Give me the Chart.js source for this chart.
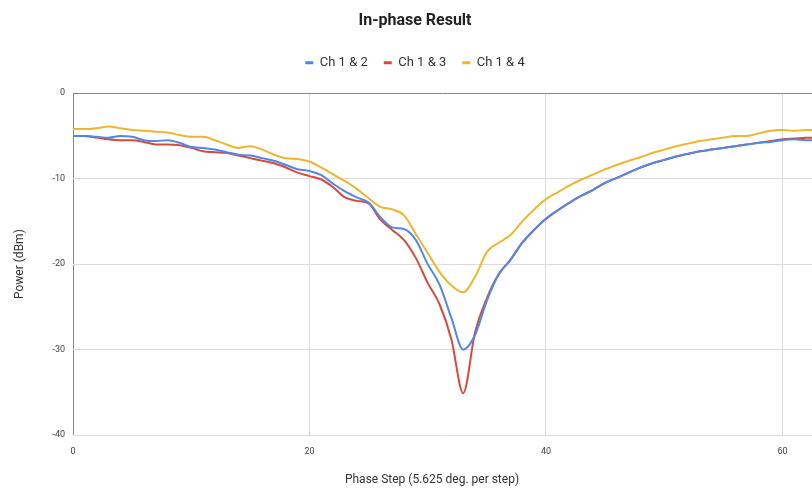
<!DOCTYPE html>
<html>
<head>
<meta charset="utf-8">
<script src="https://cdn.jsdelivr.net/npm/chart.js@4"></script>
<style>
  html, body { margin: 0; padding: 0; background: #fff; overflow: hidden; }
  #wrap { width: 812px; height: 491px; }
</style>
</head>
<body>
<div id="wrap"><canvas id="c" width="812" height="491"></canvas></div>
<script>
const steps = Array.from({length: 64}, (_, i) => i);
const ch12 = [-5.0,-5.0,-5.1,-5.2,-5.0,-5.1,-5.5,-5.6,-5.5,-5.8,-6.3,-6.4,-6.6,-6.9,-7.2,-7.3,-7.6,-7.9,-8.4,-8.9,
  -9.1,-9.6,-10.6,-11.5,-12.2,-12.8,-14.5,-15.7,-15.9,-17.2,-20.0,-22.4,-26.3,-30.0,-28.3,-24.3,-21.2,-19.5,-17.5,-16.0,
  -14.7,-13.7,-12.8,-12.0,-11.3,-10.5,-9.9,-9.3,-8.7,-8.2,-7.8,-7.4,-7.1,-6.8,-6.6,-6.4,-6.2,-6.0,-5.8,-5.7,
  -5.5,-5.4,-5.5,-5.5];
const ch13 = [-5.0,-5.0,-5.2,-5.4,-5.5,-5.5,-5.7,-6.0,-6.0,-6.1,-6.4,-6.8,-6.9,-7.0,-7.3,-7.6,-7.9,-8.2,-8.7,-9.3,
  -9.7,-10.1,-11.0,-12.2,-12.6,-12.9,-14.8,-16.0,-17.2,-19.3,-22.2,-24.7,-28.8,-35.1,-28.0,-24.0,-21.2,-19.5,-17.5,-16.0,
  -14.7,-13.7,-12.8,-12.0,-11.3,-10.5,-9.9,-9.3,-8.7,-8.2,-7.8,-7.4,-7.1,-6.8,-6.6,-6.4,-6.2,-6.0,-5.8,-5.6,
  -5.4,-5.3,-5.2,-5.2];
const ch14 = [-4.2,-4.2,-4.1,-3.9,-4.1,-4.3,-4.4,-4.5,-4.6,-4.9,-5.1,-5.1,-5.5,-6.0,-6.4,-6.2,-6.6,-7.2,-7.6,-7.7,
  -8.0,-8.7,-9.5,-10.3,-11.2,-12.3,-13.3,-13.6,-14.3,-16.5,-18.7,-20.9,-22.5,-23.3,-21.5,-18.6,-17.5,-16.6,-15.0,-13.6,
  -12.4,-11.6,-10.8,-10.1,-9.5,-8.9,-8.4,-7.9,-7.5,-7.0,-6.6,-6.2,-5.9,-5.6,-5.4,-5.2,-5.0,-5.0,-4.7,-4.4,
  -4.3,-4.4,-4.3,-4.3];
const seriesNames = ["Ch 1 & 2", "Ch 1 & 3", "Ch 1 & 4"];
const seriesColors = ["#5088ea", "#d94a3c", "#efb52e"];
const xTicks = [0, 20, 40, 60];
const yTicks = [0, -10, -20, -30, -40];

const toPts = arr => steps.map((s, i) => ({x: s, y: arr[i]}));
const allSeries = [ch12, ch13, ch14];

const datasets = allSeries.map((arr, k) => ({
  label: seriesNames[k],
  data: toPts(arr),
  borderColor: seriesColors[k],
  backgroundColor: seriesColors[k],
  borderWidth: 2,
  pointRadius: 0,
  tension: 0.35,
  cubicInterpolationMode: 'monotone',
  fill: false
}));

const FONT = "Roboto, 'Liberation Sans', sans-serif";

const spacerPlugin = {
  id: 'spacer',
  beforeInit(chart) {
    const box = {
      position: 'top',
      weight: 0,
      fullSize: true,
      options: { stackWeight: 1 },
      left: 0, top: 0, right: 0, bottom: 0, width: 0, height: 0,
      isHorizontal() { return true; },
      update(maxWidth) {
        this.width = maxWidth;
        this.height = 14;
        this.left = 0; this.right = maxWidth;
      },
      draw() {}
    };
    Chart.layouts.addBox(chart, box);
  }
};

// centre the x-axis title on the visible plot region while the scale is drawn
const xTitlePlugin = {
  id: 'xTitleCenter',
  beforeDraw(chart) {
    const s = chart.scales.x;
    s._origRight = s.right;
    s.right = Math.min(s.right, 791);
  },
  beforeDatasetsDraw(chart) {
    const s = chart.scales.x;
    if (s._origRight !== undefined) s.right = s._origRight;
  }
};

new Chart(document.getElementById('c'), {
  type: 'line',
  data: { datasets },
  plugins: [spacerPlugin, xTitlePlugin],
  options: {
    responsive: false,
    animation: false,
    devicePixelRatio: 1,
    layout: { padding: { left: 0, right: -18, top: 0, bottom: 0 } },
    plugins: {
      title: {
        display: true,
        text: 'In-phase Result',
        color: '#222',
        font: { family: FONT, size: 16, weight: 'bold' },
        padding: { top: 11, bottom: 10 }
      },
      legend: {
        display: true,
        labels: {
          color: '#333',
          font: { family: FONT, size: 13 },
          usePointStyle: true,
          pointStyle: 'line',
          pointStyleWidth: 8,
          boxHeight: 4,
          padding: 16,
          generateLabels: chart => Chart.defaults.plugins.legend.labels.generateLabels(chart)
            .map(l => Object.assign(l, { lineWidth: 3 }))
        }
      },
      tooltip: { enabled: false }
    },
    scales: {
      x: {
        type: 'linear',
        min: 0,
        max: 62.5,
        afterBuildTicks: s => { s.ticks = xTicks.map(v => ({value: v})); },
        afterFit: s => { s.height = 56; },
        ticks: { color: '#444', font: { family: FONT, size: 9 }, padding: 11, maxRotation: 0 },
        grid: {
          color: ctx => ctx.tick && ctx.tick.value === 0 ? '#888' : '#dcdcdc',
          lineWidth: 1,
          drawTicks: false
        },
        border: { display: false },
        title: {
          display: true,
          text: 'Phase Step (5.625 deg. per step)',
          color: '#333',
          font: { family: FONT, size: 12 },
          padding: { top: 8 }
        }
      },
      y: {
        type: 'linear',
        min: -40,
        max: 0,
        afterBuildTicks: s => { s.ticks = yTicks.map(v => ({value: v})); },
        afterFit: s => { s.width = 73; },
        ticks: { color: '#444', font: { family: FONT, size: 9 }, padding: 8 },
        grid: {
          color: ctx => ctx.tick && ctx.tick.value === 0 ? '#888' : '#dcdcdc',
          lineWidth: 1,
          drawTicks: false
        },
        border: { display: false },
        title: {
          display: true,
          text: 'Power (dBm)',
          color: '#333',
          font: { family: FONT, size: 12 },
          padding: { top: 13, bottom: 0 }
        }
      }
    }
  }
});
</script>
</body>
</html>
